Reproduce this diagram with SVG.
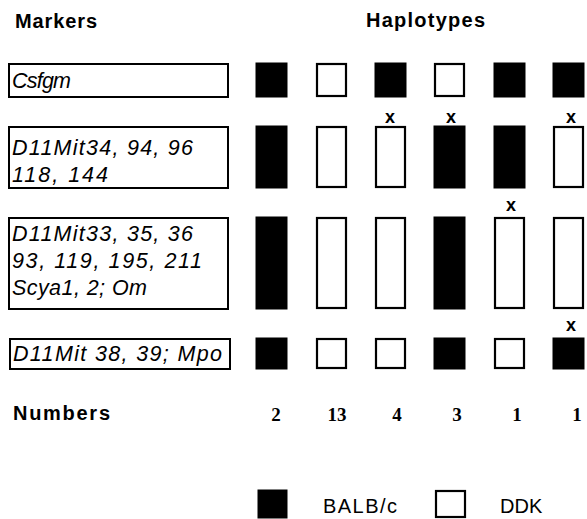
<svg xmlns="http://www.w3.org/2000/svg" width="587" height="519" viewBox="0 0 587 519">
<style>
.hdr{font-family:"Liberation Sans",Arial,sans-serif;font-weight:bold;font-size:20px;fill:#000}
.mk{font-family:"Liberation Sans",Arial,sans-serif;font-style:italic;font-size:21.5px;fill:#000}
.box{fill:#fff;stroke:#000;stroke-width:2}
.b{fill:#000;stroke:#000;stroke-width:1}
.w{fill:#fff;stroke:#000;stroke-width:2.2}
.x{font-family:"Liberation Sans",Arial,sans-serif;font-weight:bold;font-size:18px;fill:#000;text-anchor:middle}
.num{font-family:"Liberation Serif","Times New Roman",serif;font-weight:bold;font-size:19px;fill:#000;text-anchor:middle}
.leg{font-family:"Liberation Sans",Arial,sans-serif;font-size:20px;fill:#000}
</style>
<rect width="587" height="519" fill="#fff"/>
<g id="headers">
<text class="hdr" x="15" y="28" textLength="82">Markers</text>
<text class="hdr" x="366" y="27" textLength="119">Haplotypes</text>
<text class="hdr" x="13" y="420" textLength="97">Numbers</text>
</g>
<g id="marker-csfgm">
<rect class="box" x="9" y="64" width="219" height="33"/>
<text class="mk" x="12" y="88" textLength="59">Csfgm</text>
</g>
<g id="marker-d11mit34">
<rect class="box" x="9" y="127" width="219" height="61"/>
<text class="mk" x="12" y="155" textLength="181">D11Mit34,  94,  96</text>
<text class="mk" x="12" y="182" textLength="96">118,  144</text>
</g>
<g id="marker-d11mit33">
<rect class="box" x="9" y="218" width="219" height="91"/>
<text class="mk" x="12" y="241" textLength="181">D11Mit33,  35,  36</text>
<text class="mk" x="12" y="268" textLength="190">93,  119,  195,  211</text>
<text class="mk" x="12" y="295" textLength="135">Scya1, 2; Om</text>
</g>
<g id="marker-d11mit38">
<rect class="box" x="10" y="339" width="220" height="30"/>
<text class="mk" x="13" y="361" textLength="209">D11Mit 38, 39; Mpo</text>
</g>
<g id="haplotype-1">
<rect class="b" x="256" y="63" width="31" height="34"/>
<rect class="b" x="256" y="126" width="31" height="62"/>
<rect class="b" x="256" y="217" width="31" height="92"/>
<rect class="b" x="256" y="338" width="31" height="31"/>
</g>
<g id="haplotype-2">
<rect class="w" x="317" y="64" width="29" height="32"/>
<rect class="w" x="317" y="127" width="29" height="60"/>
<rect class="w" x="317" y="218" width="29" height="90"/>
<rect class="w" x="317" y="339" width="29" height="29"/>
</g>
<g id="haplotype-3">
<rect class="b" x="375" y="63" width="31" height="34"/>
<rect class="w" x="376" y="127" width="29" height="60"/>
<rect class="w" x="376" y="218" width="29" height="90"/>
<rect class="w" x="376" y="339" width="29" height="29"/>
<text class="x" x="390" y="123">x</text>
</g>
<g id="haplotype-4">
<rect class="w" x="435" y="64" width="29" height="32"/>
<rect class="b" x="434" y="126" width="31" height="62"/>
<rect class="b" x="434" y="217" width="31" height="92"/>
<rect class="b" x="434" y="338" width="31" height="31"/>
<text class="x" x="451" y="123">x</text>
</g>
<g id="haplotype-5">
<rect class="b" x="494" y="63" width="31" height="34"/>
<rect class="b" x="494" y="126" width="31" height="62"/>
<rect class="w" x="495" y="218" width="29" height="90"/>
<rect class="w" x="495" y="339" width="29" height="29"/>
<text class="x" x="511" y="211">x</text>
</g>
<g id="haplotype-6">
<rect class="b" x="553" y="63" width="31" height="34"/>
<rect class="w" x="554" y="127" width="29" height="60"/>
<rect class="w" x="554" y="218" width="29" height="90"/>
<rect class="b" x="553" y="338" width="31" height="31"/>
<text class="x" x="571" y="123">x</text>
<text class="x" x="571" y="331">x</text>
</g>
<g id="numbers">
<text class="num" x="276" y="421">2</text>
<text class="num" x="337" y="421">13</text>
<text class="num" x="397" y="421">4</text>
<text class="num" x="457" y="421">3</text>
<text class="num" x="517" y="421">1</text>
<text class="num" x="577" y="421">1</text>
</g>
<g id="legend">
<rect class="b" x="258" y="490" width="29" height="28"/>
<text class="leg" x="323" y="513" textLength="74">BALB/c</text>
<rect class="w" x="436" y="491" width="29" height="26"/>
<text class="leg" x="500" y="513">DDK</text>
</g>
<g id="connectors"></g>
</svg>
